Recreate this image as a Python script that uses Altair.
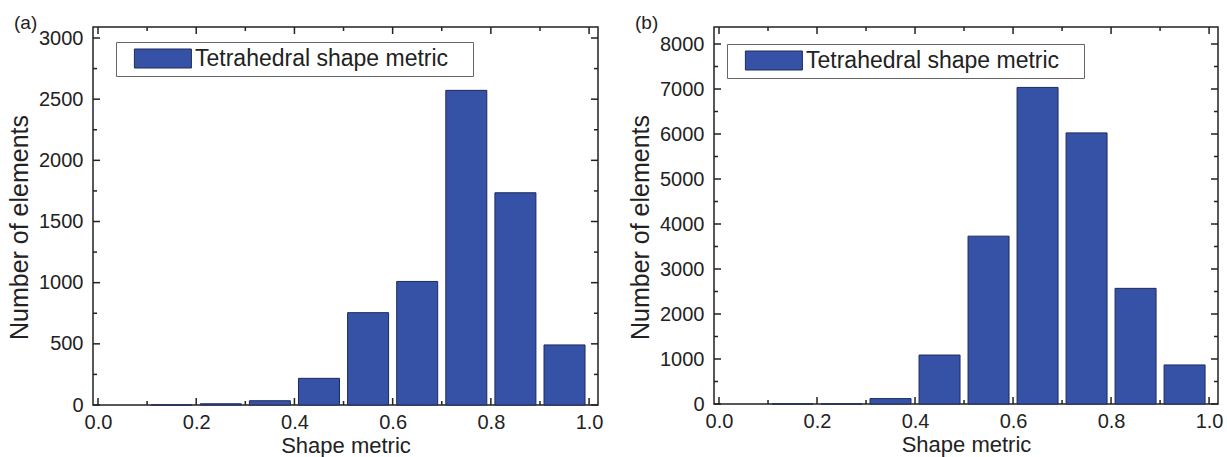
import altair as alt
import pandas as pd

# ---- data ----
bin_centers = [0.15, 0.25, 0.35, 0.45, 0.55, 0.65, 0.75, 0.85, 0.95]
counts_a = [0, 10, 35, 218, 755, 1010, 2572, 1735, 491]
counts_b = [0, 0, 120, 1088, 3730, 7035, 6025, 2570, 868]
x_major = [0.0, 0.2, 0.4, 0.6, 0.8, 1.0]
x_minor = [0.1, 0.3, 0.5, 0.7, 0.9]
y_major_a = [0, 500, 1000, 1500, 2000, 2500, 3000]
y_minor_a = [250, 750, 1250, 1750, 2250, 2750]
y_major_b = [0, 1000, 2000, 3000, 4000, 5000, 6000, 7000, 8000]
y_minor_b = [500, 1500, 2500, 3500, 4500, 5500, 6500, 7500]
series_name = "Tetrahedral shape metric"
panel_labels = ["(a)", "(b)"]
x_title = "Shape metric"
y_title = "Number of elements"

# ---- styles ----
FONT = "Liberation Sans"
BAR = "#3652a6"
EDGE = "#1e2a5c"
INK = "#222222"
# trailing no-break spaces (kept by a zero-width char) widen the legend frame
PAD_SP = "\u00a0\u00a0\u00a0\u200b"


def panel(counts, ymax, ymaj, ymin, W, H, xmax, label, legx, legy, anchor=False):
    df = pd.DataFrame({"center": bin_centers, "count": counts, "series": series_name})
    xs = alt.Scale(domain=[0, xmax], nice=False, zero=False)
    ys = alt.Scale(domain=[0, ymax], nice=False)
    xaxis = alt.Axis(values=x_major, format=".1f", title=x_title,
                     ticks=False, domain=False, grid=False,
                     labelFontSize=20, labelPadding=7, labelColor=INK,
                     titleFontSize=22, titleFontWeight="normal",
                     titleColor=INK, titlePadding=3.5, labelFlush=False)
    yaxis = alt.Axis(values=ymaj, format="d", title=y_title, ticks=False,
                     domain=False, grid=False, labelFontSize=20,
                     labelPadding=10, labelColor=INK,
                     titleFontSize=25, titleFontWeight="normal",
                     titleColor=INK, titlePadding=6, titleY=200)

    bars = alt.Chart(df).mark_bar(size=41, stroke=EDGE, strokeWidth=1).encode(
        x=alt.X("center:Q", scale=xs, axis=xaxis),
        y=alt.Y("count:Q", scale=ys, axis=yaxis),
        color=alt.Color("series:N", scale=alt.Scale(range=[BAR]),
                        legend=alt.Legend(
                            title=None, orient="none", legendX=legx, legendY=legy,
                            symbolType="M0.2,-1L6.2,-1L6.2,1L0.2,1Z", symbolSize=361,
                            symbolStrokeColor=EDGE, symbolStrokeWidth=1,
                            labelFontSize=23, labelColor=INK, labelFont=FONT,
                            labelOffset=51, labelLimit=500,
                            labelExpr="datum.label + '" + PAD_SP + "'",
                            padding=5, strokeColor="#666666", fillColor="white")),
    )

    def yticks(vals, length):
        d = pd.DataFrame({"v": vals})
        left = alt.Chart(d).mark_rule(color=INK, strokeWidth=1.5).encode(
            y=alt.Y("v:Q", scale=ys, axis=yaxis), x=alt.value(0), x2=alt.value(length))
        right = alt.Chart(d).mark_rule(color=INK, strokeWidth=1.5).encode(
            y=alt.Y("v:Q", scale=ys, axis=yaxis), x=alt.value(W), x2=alt.value(W - length))
        return [left, right]

    def xticks(vals, length):
        d = pd.DataFrame({"v": vals})
        bottom = alt.Chart(d).mark_rule(color=INK, strokeWidth=1.5).encode(
            x=alt.X("v:Q", scale=xs, axis=xaxis), y=alt.value(H), y2=alt.value(H - length))
        top = alt.Chart(d).mark_rule(color=INK, strokeWidth=1.5).encode(
            x=alt.X("v:Q", scale=xs, axis=xaxis), y=alt.value(0), y2=alt.value(length))
        return [bottom, top]

    lab = alt.Chart(pd.DataFrame({"t": [label]})).mark_text(
        font=FONT, fontSize=19, color=INK, align="left", baseline="top"
    ).encode(text="t:N", x=alt.value(-79), y=alt.value(-13))

    layers = [bars] + yticks(ymaj, 7) + yticks(ymin, 4) + xticks(x_major, 7) + xticks(x_minor, 4) + [lab]
    if anchor:
        # invisible layout anchor fixing the page origin of the first panel
        layers.append(alt.Chart(pd.DataFrame({"t": [label]})).mark_rule(
            opacity=0, strokeWidth=1).encode(
            x=alt.value(-91.5), x2=alt.value(-85), y=alt.value(-25.5), y2=alt.value(-25.5)))
    return alt.layer(*layers).properties(width=W, height=H)


pa = panel(counts_a, 3090, y_major_a, y_minor_a, 505, 378, 1.008, panel_labels[0], 23, 15, anchor=True)
pb = panel(counts_b, 8378, y_major_b, y_minor_b, 504, 377, 1.008, panel_labels[1], 13, 17)

chart = alt.hconcat(pa, pb, spacing=116, bounds="flush").resolve_scale(
    color="independent"
).properties(
    padding={"left": 0, "top": 0, "right": 0, "bottom": 0}
).configure(font=FONT).configure_view(stroke=INK, strokeWidth=1.5)

chart.save("out.html", embed_options={"renderer": "svg", "actions": False})
